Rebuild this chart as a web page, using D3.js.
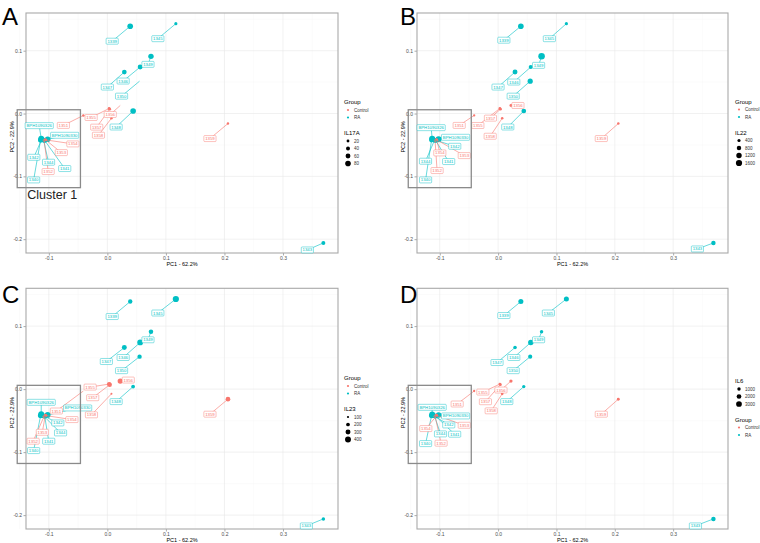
<!DOCTYPE html>
<html><head><meta charset="utf-8">
<script src="https://cdn.jsdelivr.net/npm/d3@7"></script>
<style>body{margin:0;background:#fff;} text{font-family:"Liberation Sans",Arial,sans-serif;}</style>
</head><body><svg id="c" width="760" height="543"></svg>
<script>
// ---------- data ----------
const samples = ["1339","1340","1341","1342","1343","1344","1345","1346","1347","1348","1349","1350","BPH1090326","BPH1090330","1351","1352","1353","1354","1355","1356","1357","1358","1359"];
const groups  = ["RA","RA","RA","RA","RA","RA","RA","RA","RA","RA","RA","RA","RA","RA","Control","Control","Control","Control","Control","Control","Control","Control","Control"];
const pc1 = [0.039,-0.114,-0.107,-0.112,0.369,-0.109,0.117,0.056,0.029,0.044,0.0745,0.055,-0.113,-0.102,-0.041,-0.108,-0.106,-0.105,0.003,0.022,0.004,0.007,0.206];
const pc2 = [0.139,-0.042,-0.043,-0.041,-0.206,-0.0425,0.143,0.074,0.066,0.004,0.091,0.0515,-0.040,-0.041,-0.003,-0.043,-0.0415,-0.042,0.008,0.0128,0.007,-0.0075,-0.016];
const il17a = [80,70,60,75,40,55,25,60,55,80,75,null,85,80,15,20,20,15,20,null,20,15,15];
const il22  = [1300,1000,900,1000,800,900,400,700,1000,900,1750,1100,1500,1500,200,250,250,300,300,350,300,250,250];
const il23  = [250,350,300,300,180,300,430,380,300,200,260,250,400,380,null,150,150,150,250,330,250,90,280];
const il6   = [2300,2500,2000,2200,1800,2000,2300,2600,1100,900,1000,1500,3000,2800,400,700,700,600,600,900,600,600,700];
const groupNames = ["Control","RA"];
const xTicks = [-0.1,0.0,0.1,0.2,0.3];
const yTicks = [-0.2,-0.1,0.0,0.1];
const xMinor = [-0.15,-0.05,0.05,0.15,0.25,0.35];
const yMinor = [-0.15,-0.05,0.05,0.15];
const breaksIL17A = [20,40,60,80];
const breaksIL22 = [400,800,1200,1600];
const breaksIL23 = [100,200,300,400];
const breaksIL6 = [1000,2000,3000];
const xLabel = "PC1 - 62.2%";
const yLabel = "PC2 - 22.9%";

// ---------- layout (label nudges in px) ----------
const offA = {"1339":[-18,15],"1345":[-18,15],"1349":[-3,8],"1346":[-17,14],"1347":[-17,15],"1350":[-18,15],"1348":[-17,16],"1359":[-18,15],"1343":[-16,7],"1351":[-20,10],"1355":[-18,9],"1357":[-13,18],"1356":[-10,9],"1358":[-13,17],
 "BPH1090326":[-2,-13],"BPH1090330":[17,-4],"1354":[27,4],"1353":[16,13],"1342":[-8,18],"1344":[5,22],"1341":[20,28],"1352":[4,31],"1340":[-7,40]};
const offB = {"1339":[-17,14],"1345":[-17,15],"1349":[-3,9],"1346":[-17,15],"1347":[-17,15],"1350":[-17,15],"1348":[-16,16],"1359":[-17,15],"1343":[-16,6],"1351":[-15,10],"1357":[-10,9],"1355":[-22,17],"1358":[-12,18],"1356":[7,0],
 "BPH1090326":[-1,-11],"BPH1090330":[17,-2],"1342":[22,7],"1353":[28,16],"1354":[3,13],"1341":[13,21],"1344":[-9,21],"1352":[2,30],"1340":[-6,40]};
const offC = {"1339":[-18,15],"1345":[-18,14],"1349":[-3,8],"1346":[-17,15],"1347":[-18,14],"1350":[-18,14],"1348":[-17,15],"1359":[-18,15],"1343":[-17,7],"1355":[-19,3],"1357":[-17,13],"1358":[-20,21],"1356":[8,-1],"1351":[-27,20],
 "BPH1090326":[0,-12],"BPH1090330":[30,-7],"1354":[26,4],"1342":[16,8],"1353":[-3,17],"1344":[17,17],"1341":[4,25],"1352":[-11,25],"1340":[-7,35]};
const offD = {"1339":[-17,14],"1345":[-18,14],"1349":[-3,8],"1346":[-17,15],"1347":[-18,15],"1350":[-17,14],"1348":[-17,15],"1359":[-17,15],"1343":[-18,7],"1351":[-17,13],"1355":[-17,8],"1357":[-15,17],"1356":[-10,9],"1358":[-11,17],
 "BPH1090326":[0,-7],"BPH1090330":[17,1],"1342":[16,10],"1353":[28,10],"1354":[-11,13],"1344":[6,18],"1341":[19,18],"1352":[6,27],"1340":[-6,28]};

const panels = [
 {letter:"A", lx:2, ly:25, vals:il17a, name:"IL17A", breaks:breaksIL17A, dom:[10,85], rng:[1.0,2.9], l:26, t:13, r:338, b:253, off:offA, cluster:true, legX:344, legY:102, sizeFirst:false},
 {letter:"B", lx:400, ly:25, vals:il22, name:"IL22", breaks:breaksIL22, dom:[150,1800], rng:[1.0,3.3], l:417, t:13, r:728, b:253, off:offB, cluster:false, legX:735, legY:101.5, sizeFirst:false},
 {letter:"C", lx:2, ly:303, vals:il23, name:"IL23", breaks:breaksIL23, dom:[80,450], rng:[0.9,3.2], l:26, t:288.3, r:338, b:529, off:offC, cluster:false, legX:344, legY:378, sizeFirst:false},
 {letter:"D", lx:400, ly:303, vals:il6, name:"IL6", breaks:breaksIL6, dom:[300,3300], rng:[1.0,3.0], l:417, t:288.3, r:728, b:529, off:offD, cluster:false, legX:735, legY:381, sizeFirst:true}
];

const color = d3.scaleOrdinal().domain(groupNames).range(["#F8766D","#00BFC4"]);
const fmt = v => d3.format(".1f")(v).replace("\u2212","-");
const svg = d3.select("#c");

panels.forEach(p => {
  const x = d3.scaleLinear().domain([-0.139,0.394]).range([p.l,p.r]);
  const y = d3.scaleLinear().domain([0.160,-0.222]).range([p.t,p.b]);
  const rs = d3.scaleSqrt().domain(p.dom).range(p.rng);
  const g = svg.append("g");

  // grid
  g.append("g").selectAll("line").data(xMinor).join("line").attr("x1",d=>x(d)).attr("x2",d=>x(d)).attr("y1",p.t).attr("y2",p.b).attr("stroke","#f4f4f4").attr("stroke-width",0.4);
  g.append("g").selectAll("line").data(yMinor).join("line").attr("y1",d=>y(d)).attr("y2",d=>y(d)).attr("x1",p.l).attr("x2",p.r).attr("stroke","#f4f4f4").attr("stroke-width",0.4);
  g.append("g").selectAll("line").data(xTicks).join("line").attr("x1",d=>x(d)).attr("x2",d=>x(d)).attr("y1",p.t).attr("y2",p.b).attr("stroke","#e8e8e8").attr("stroke-width",0.6);
  g.append("g").selectAll("line").data(yTicks).join("line").attr("y1",d=>y(d)).attr("y2",d=>y(d)).attr("x1",p.l).attr("x2",p.r).attr("stroke","#e8e8e8").attr("stroke-width",0.6);

  // axes
  const xa = g.append("g").attr("transform",`translate(0,${p.b})`).call(d3.axisBottom(x).tickValues(xTicks).tickFormat(fmt).tickSize(2.5).tickPadding(1));
  const ya = g.append("g").attr("transform",`translate(${p.l},0)`).call(d3.axisLeft(y).tickValues(yTicks).tickFormat(fmt).tickSize(2.5).tickPadding(1.5));
  [xa,ya].forEach(a=>{a.select(".domain").remove(); a.selectAll("line").attr("stroke","#555").attr("stroke-width",0.5);
    a.selectAll("text").attr("font-size",5).attr("fill","#4d4d4d").attr("font-family","Liberation Sans, Arial, sans-serif");});
  g.append("rect").attr("x",p.l).attr("y",p.t).attr("width",p.r-p.l).attr("height",p.b-p.t).attr("fill","none").attr("stroke","#a9a9a9").attr("stroke-width",1.1);
  g.append("text").attr("x",(p.l+p.r)/2).attr("y",p.b+13).attr("text-anchor","middle").attr("font-size",5.5).text(xLabel);
  g.append("text").attr("transform",`translate(${p.l-12},${(p.t+p.b)/2+4}) rotate(-90)`).attr("text-anchor","middle").attr("font-size",5.5).text(yLabel);

  // points
  const idx = d3.range(samples.length);
  g.append("g").selectAll("circle").data(idx.filter(i=>p.vals[i]!=null)).join("circle")
    .attr("cx",i=>x(pc1[i])).attr("cy",i=>y(pc2[i])).attr("r",i=>rs(p.vals[i])).attr("fill",i=>color(groups[i]));

  // labels (repel-style)
  const lab = idx.map(i=>{const o=p.off[samples[i]]||[0,-8]; return {i, px:x(pc1[i]), py:y(pc2[i]), lx:x(pc1[i])+o[0], ly:y(pc2[i])+o[1]};});
  g.append("g").selectAll("line").data(lab).join("line")
    .attr("x1",d=>d.px).attr("y1",d=>d.py).attr("x2",d=>d.lx).attr("y2",d=>d.ly)
    .attr("stroke",d=>color(groups[d.i])).attr("stroke-width",0.6);
  const lg = g.append("g").selectAll("g").data(lab).join("g");
  lg.each(function(d){
    const s = d3.select(this);
    const rect = s.append("rect");
    const t = s.append("text").attr("x",d.lx).attr("y",d.ly+1.5).attr("text-anchor","middle").attr("font-size",4.3).attr("fill",color(groups[d.i])).text(samples[d.i]);
    const w = t.node().getComputedTextLength()+2.6;
    rect.attr("x",d.lx-w/2).attr("y",d.ly-3).attr("width",w).attr("height",6).attr("rx",0.8).attr("fill","#fff").attr("stroke",color(groups[d.i])).attr("stroke-width",0.45);
  });

  // cluster box
  g.append("rect").attr("x",x(-0.154)).attr("y",y(0.006)).attr("width",x(-0.046)-x(-0.154)).attr("height",y(-0.118)-y(0.006))
    .attr("fill","none").attr("stroke","#8a8a8a").attr("stroke-width",1.3);
  if (p.cluster) {
    g.append("text").attr("x",x(-0.154)+10).attr("y",y(-0.118)+11.5).attr("font-size",12.5).attr("fill","#222").text("Cluster 1");
  }

  // panel letter
  svg.append("text").attr("x",p.lx).attr("y",p.ly).attr("font-size",24).attr("fill","#000").text(p.letter);

  // legend
  let cy = p.legY;
  const L = g.append("g");
  const groupBlock = () => {
    L.append("text").attr("x",p.legX).attr("y",cy+2).attr("font-size",6).text("Group");
    cy += 8;
    groupNames.forEach((gn,k)=>{
      L.append("circle").attr("cx",p.legX+4).attr("cy",cy).attr("r",1.1).attr("fill",color(gn));
      L.append("text").attr("x",p.legX+10).attr("y",cy+1.6).attr("font-size",4.5).attr("fill","#333").text(gn);
      cy += (k<groupNames.length-1)?7.5:15.5;
    });
  };
  const sizeBlock = () => {
    L.append("text").attr("x",p.legX).attr("y",cy+2).attr("font-size",6).text(p.name);
    cy += 8;
    p.breaks.forEach((b,k)=>{
      L.append("circle").attr("cx",p.legX+4).attr("cy",cy).attr("r",rs(b)).attr("fill","#000");
      L.append("text").attr("x",p.legX+10).attr("y",cy+1.6).attr("font-size",4.5).attr("fill","#333").text(b);
      cy += (k<p.breaks.length-1)?7.5:15.5;
    });
  };
  if (p.sizeFirst) { sizeBlock(); groupBlock(); } else { groupBlock(); sizeBlock(); }
});
</script></body></html>
